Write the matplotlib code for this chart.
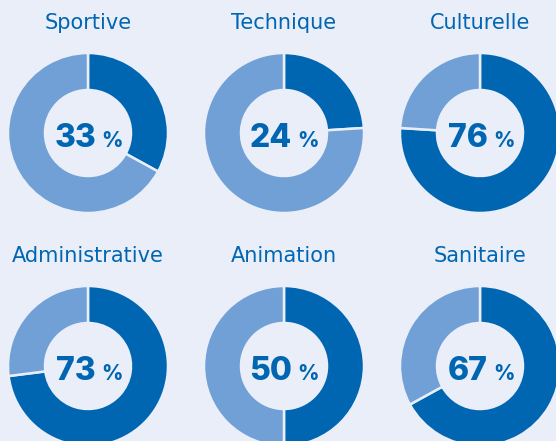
import matplotlib.pyplot as plt

# data
labels = ['Sportive', 'Technique', 'Culturelle', 'Administrative', 'Animation', 'Sanitaire']
values = [33, 24, 76, 73, 50, 67]

bg = '#e9eef9'
dark = '#0066b2'
light = '#70a0d6'

col_x = [88, 284, 480]
row_y = [441 - 133, 441 - 366]
title_y = [441 - 29, 441 - 262]
radius = 80
ring = 37

fig = plt.figure(figsize=(5.56, 4.41), dpi=100)
fig.patch.set_facecolor(bg)
ax = fig.add_axes([0, 0, 1, 1])
ax.set_facecolor(bg)

for i, (lab, v) in enumerate(zip(labels, values)):
    cx = col_x[i % 3]
    cy = row_y[i // 3]
    ax.pie([v, 100 - v], colors=[dark, light], startangle=90, counterclock=False,
           center=(cx, cy), radius=radius,
           wedgeprops=dict(width=ring, edgecolor=bg, linewidth=1.8))
    ax.text(cx, title_y[i // 3], lab, ha='center', va='baseline', fontsize=15,
            color=dark, family='DejaVu Sans')
    ax.text(cx + 8, cy - 14, str(v), ha='right', va='baseline', fontsize=23,
            fontweight='heavy', color=dark, family='Inter')
    ax.text(cx + 13, cy - 14, '%', ha='left', va='baseline', fontsize=15,
            fontweight='heavy', color=dark, family='Inter')

ax.set_xlim(0, 556)
ax.set_ylim(0, 441)
ax.set_aspect('auto')
ax.axis('off')

plt.savefig('out.png', dpi=100, facecolor=bg)
